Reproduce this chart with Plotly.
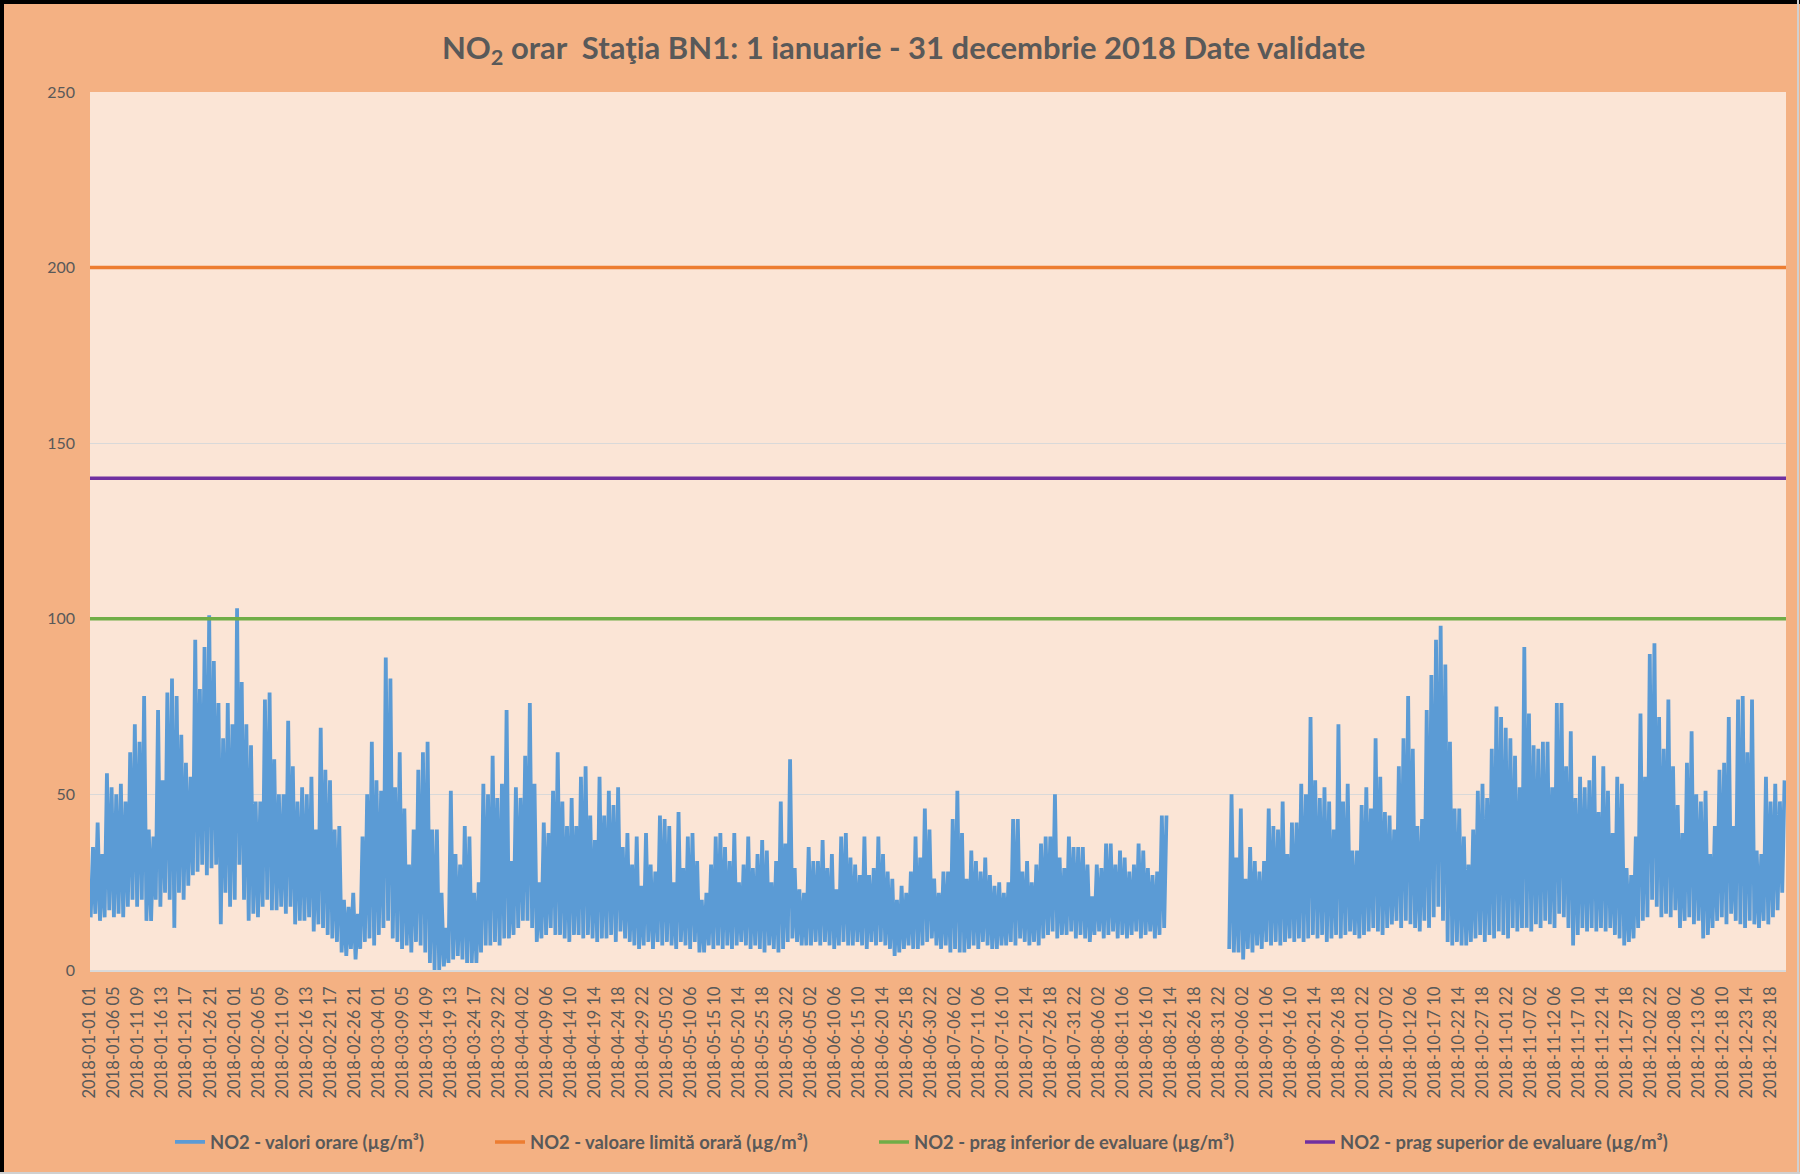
import plotly.graph_objects as go

# ---------------- data ----------------
# Daily low / high of the hourly NO2 series (µg/m³), day 0 = 2018-01-01
daily_low = [
    # Jan
    15,16,14,15,17,15,16,15,18,20,18,20,14,14,20,18,22,20,12,22,20,24,27,28,30,27,29,30,13,22,18,
    # Feb
    20,30,20,14,16,15,18,20,17,17,18,16,18,13,14,14,15,11,13,12,10,9,8,5,4,6,3,6,
    # Mar
    8,9,7,10,12,14,9,8,6,7,5,8,7,5,2,0,0,1,2,3,4,3,2,2,2,5,7,7,8,7,9,
    # Apr
    9,10,12,14,14,12,8,9,10,12,10,10,9,8,10,10,9,10,9,8,9,9,10,8,11,9,8,7,6,7,
    # May
    8,6,8,7,8,7,6,8,7,6,8,5,5,7,6,7,6,7,6,7,8,7,6,7,6,5,7,6,5,6,8,
    # Jun
    9,8,7,7,7,8,7,8,7,6,7,8,7,7,8,7,6,8,7,8,7,6,4,5,6,7,6,6,7,8,
    # Jul
    9,7,6,7,5,6,5,5,6,7,6,8,7,6,6,7,7,8,7,9,8,7,8,7,9,10,11,9,10,10,11,
    # Aug
    9,10,9,8,10,11,9,10,11,9,10,9,10,11,9,10,11,9,10,12,
    None,None,None,None,None,None,None,None,None,None,None,
    # Sep
    None,None,6,5,5,3,6,5,7,6,8,7,8,7,8,9,8,9,8,9,10,9,10,8,9,10,9,10,11,10,
    # Oct
    9,10,11,12,11,10,12,13,14,12,14,13,12,11,14,12,15,18,14,8,7,8,7,7,8,9,10,8,10,9,11,
    # Nov
    10,9,12,11,12,12,11,13,12,14,13,12,16,15,12,7,10,12,11,12,11,12,11,12,10,9,7,8,9,12,
    # Dec
    14,15,20,18,15,16,15,17,12,14,15,13,14,9,10,12,14,15,13,16,14,13,12,14,13,12,14,13,15,17,22,
]
daily_high = [
    # Jan
    35,42,33,56,52,50,53,48,62,70,65,78,40,38,74,54,79,83,78,67,59,55,94,80,92,101,88,76,66,76,70,
    # Feb
    103,82,70,64,48,48,77,79,60,50,50,71,58,48,52,50,55,40,69,57,54,40,41,20,18,22,16,38,
    # Mar
    50,65,54,51,89,83,52,62,46,30,40,57,62,65,40,40,22,12,51,33,30,41,38,22,25,53,50,61,49,53,74,
    # Apr
    31,52,49,61,76,53,25,42,39,51,62,48,41,49,41,55,58,44,37,55,44,51,47,52,35,39,30,38,24,39,
    # May
    30,28,44,43,41,25,45,29,38,39,31,20,22,30,38,39,35,31,39,25,30,38,29,33,37,34,25,31,48,36,60,
    # Jun
    29,23,22,35,31,31,37,29,33,23,38,39,32,30,27,38,27,29,38,33,28,26,20,24,22,28,38,32,46,40,
    # Jul
    26,22,28,28,43,51,39,26,34,31,28,32,27,24,25,22,25,43,43,28,31,25,30,36,38,38,50,32,29,38,35,
    # Aug
    35,35,30,21,30,29,36,36,30,34,32,28,30,36,34,29,27,28,44,44,
    None,None,None,None,None,None,None,None,None,None,None,
    # Sep
    None,None,50,32,46,26,35,31,28,31,46,41,40,48,33,42,42,53,50,72,54,49,52,48,40,70,48,53,34,34,
    # Oct
    47,52,46,66,55,45,44,40,58,66,78,63,41,43,74,84,94,98,87,65,46,46,38,30,40,51,53,49,63,75,72,
    # Nov
    69,66,61,52,92,73,64,63,65,65,52,76,76,58,68,49,55,52,54,61,45,58,51,39,55,53,29,27,38,73,
    # Dec
    55,90,93,72,63,77,58,47,39,59,68,50,48,51,33,41,57,59,72,41,77,78,62,77,34,33,55,48,53,48,54,
]

# threshold values (µg/m³)
limit_value = 200        # valoare limită orară
upper_threshold = 140    # prag superior de evaluare
lower_threshold = 100    # prag inferior de evaluare

# category tick labels (every 124th hour of the series)
tick_labels = [
    "2018-01-01 01","2018-01-06 05","2018-01-11 09","2018-01-16 13","2018-01-21 17","2018-01-26 21",
    "2018-02-01 01","2018-02-06 05","2018-02-11 09","2018-02-16 13","2018-02-21 17","2018-02-26 21",
    "2018-03-04 01","2018-03-09 05","2018-03-14 09","2018-03-19 13","2018-03-24 17","2018-03-29 22",
    "2018-04-04 02","2018-04-09 06","2018-04-14 10","2018-04-19 14","2018-04-24 18","2018-04-29 22",
    "2018-05-05 02","2018-05-10 06","2018-05-15 10","2018-05-20 14","2018-05-25 18","2018-05-30 22",
    "2018-06-05 02","2018-06-10 06","2018-06-15 10","2018-06-20 14","2018-06-25 18","2018-06-30 22",
    "2018-07-06 02","2018-07-11 06","2018-07-16 10","2018-07-21 14","2018-07-26 18","2018-07-31 22",
    "2018-08-06 02","2018-08-11 06","2018-08-16 10","2018-08-21 14","2018-08-26 18","2018-08-31 22",
    "2018-09-06 02","2018-09-11 06","2018-09-16 10","2018-09-21 14","2018-09-26 18",
    "2018-10-01 22","2018-10-07 02","2018-10-12 06","2018-10-17 10","2018-10-22 14","2018-10-27 18",
    "2018-11-01 22","2018-11-07 02","2018-11-12 06","2018-11-17 10","2018-11-22 14","2018-11-27 18",
    "2018-12-02 22","2018-12-08 02","2018-12-13 06","2018-12-18 10","2018-12-23 14","2018-12-28 18",
]
HOURS = 8759          # number of hourly categories in the series
TICK_STEP = 124       # one label every 124 hours

series_names = [
    "NO2 - valori orare (µg/m³)",
    "NO2 - valoare limită orară (µg/m³)",
    "NO2 - prag inferior de evaluare (µg/m³)",
    "NO2 - prag superior de evaluare (µg/m³)",
]

# ---------------- build the hourly positions ----------------
xs, ys = [], []
for d, (lo, hi) in enumerate(zip(daily_low, daily_high)):
    xs += [d * 24 + 3, d * 24 + 15]
    ys += [lo, hi]

tick_vals = [i * TICK_STEP for i in range(len(tick_labels))]

GREY = "#595959"
FONT = "Lato"

fig = go.Figure()
fig.add_trace(go.Scatter(
    x=xs, y=ys, mode="lines", connectgaps=False,
    line=dict(color="#5B9BD5", width=3.8),
    name=series_names[0], legend="legend", showlegend=True))
fig.add_trace(go.Scatter(
    x=[-0.5, HOURS - 0.5], y=[limit_value, limit_value], mode="lines",
    line=dict(color="#ED7D31", width=3.5),
    name=series_names[1], legend="legend2", showlegend=True))
fig.add_trace(go.Scatter(
    x=[-0.5, HOURS - 0.5], y=[lower_threshold, lower_threshold], mode="lines",
    line=dict(color="#70AD47", width=3.5),
    name=series_names[2], legend="legend3", showlegend=True))
fig.add_trace(go.Scatter(
    x=[-0.5, HOURS - 0.5], y=[upper_threshold, upper_threshold], mode="lines",
    line=dict(color="#7030A0", width=3.5),
    name=series_names[3], legend="legend4", showlegend=True))

W, H = 1800, 1174
L, R, T, B = 90, 14, 92, 204
pw, ph = W - L - R, H - T - B


def px2x(px):
    return (px - L) / pw


def py2y(py):
    return (H - B - py) / ph


leg_common = dict(orientation="h", yanchor="middle", xanchor="left",
                  y=py2y(1142), bgcolor="rgba(0,0,0,0)",
                  font=dict(family=FONT, size=18.4, color=GREY, weight="bold"))

fig.update_layout(
    width=W, height=H,
    showlegend=True,
    margin=dict(l=L, r=R, t=T, b=B, autoexpand=False),
    paper_bgcolor="#F4B183",
    plot_bgcolor="#FBE5D6",
    title=dict(
        text="NO<sub>2</sub> orar  Staţia BN1: 1 ianuarie - 31 decembrie 2018 Date validate",
        x=0.502, xanchor="center", y=1 - 48 / H, yanchor="middle",
        automargin=False,
        font=dict(family=FONT, size=31, color=GREY, weight="bold")),
    xaxis=dict(
        range=[-0.5, HOURS - 0.5], tickmode="array", tickvals=tick_vals,
        ticktext=tick_labels, tickangle=-90, showgrid=False, zeroline=False,
        showline=True, linecolor="#D9D9D9", linewidth=1.5, ticks="",
        ticklabelstandoff=8, automargin=False,
        tickfont=dict(family=FONT, size=16.5, color=GREY)),
    yaxis=dict(
        range=[0, 250], tickvals=[0, 50, 100, 150, 200, 250],
        showgrid=True, gridcolor="#D9D9D9", gridwidth=1, zeroline=False,
        showline=False, ticks="", ticklabelstandoff=14, automargin=False,
        tickfont=dict(family=FONT, size=16, color=GREY)),
    legend=dict(leg_common, x=px2x(170)),
    legend2=dict(leg_common, x=px2x(490)),
    legend3=dict(leg_common, x=px2x(874)),
    legend4=dict(leg_common, x=px2x(1300)),
    shapes=[
        dict(type="line", xref="paper", yref="paper", x0=px2x(2), x1=px2x(2),
             y0=py2y(H), y1=py2y(0), line=dict(color="black", width=4)),
        dict(type="line", xref="paper", yref="paper", x0=px2x(0), x1=px2x(W),
             y0=py2y(2), y1=py2y(2), line=dict(color="black", width=4)),
        dict(type="line", xref="paper", yref="paper", x0=px2x(W - 2), x1=px2x(W - 2),
             y0=py2y(H), y1=py2y(0), line=dict(color="#D0D0D0", width=2)),
        dict(type="line", xref="paper", yref="paper", x0=px2x(0), x1=px2x(W),
             y0=py2y(H - 1), y1=py2y(H - 1), line=dict(color="#D0D0D0", width=2)),
    ],
)

fig.write_html(
    "out.html",
    config={"displayModeBar": False},
    post_script="document.body.style.margin='0px';document.body.style.overflow='hidden';",
)
